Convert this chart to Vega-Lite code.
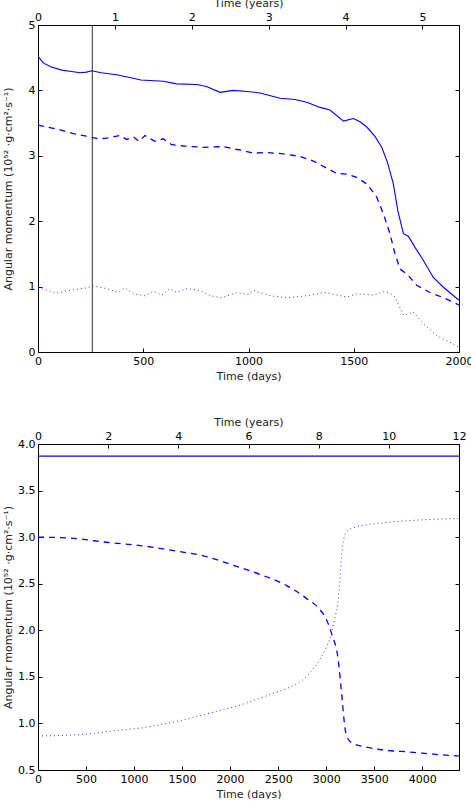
{
  "$schema": "https://vega.github.io/schema/vega-lite/v6.json",
  "background": "white",
  "padding": {"left": 2, "top": -3, "right": 0, "bottom": 0},
  "spacing": 35,
  "config": {
    "font": "DejaVu Sans",
    "view": {"stroke": null},
    "axis": {
      "grid": false,
      "domainColor": "black",
      "tickColor": "black",
      "labelColor": "black",
      "titleColor": "#222222",
      "labelFont": "DejaVu Sans",
      "titleFont": "DejaVu Sans",
      "labelFontSize": 11,
      "titleFontSize": 11,
      "titleFontWeight": "normal",
      "tickSize": -4,
      "labelPadding": 7,
      "domainWidth": 1,
      "tickWidth": 1,
      "labelFlush": false,
      "labelOverlap": false,
      "labelBound": false
    }
  },
  "datasets": {
    "top": [
      {"days": 0, "value": 4.52, "line": "A"},
      {"days": 25, "value": 4.42, "line": "A"},
      {"days": 60, "value": 4.36, "line": "A"},
      {"days": 113, "value": 4.31, "line": "A"},
      {"days": 160, "value": 4.29, "line": "A"},
      {"days": 200, "value": 4.27, "line": "A"},
      {"days": 230, "value": 4.28, "line": "A"},
      {"days": 255, "value": 4.3, "line": "A"},
      {"days": 300, "value": 4.27, "line": "A"},
      {"days": 374, "value": 4.24, "line": "A"},
      {"days": 430, "value": 4.2, "line": "A"},
      {"days": 489, "value": 4.16, "line": "A"},
      {"days": 595, "value": 4.14, "line": "A"},
      {"days": 659, "value": 4.1, "line": "A"},
      {"days": 754, "value": 4.09, "line": "A"},
      {"days": 800, "value": 4.06, "line": "A"},
      {"days": 865, "value": 3.97, "line": "A"},
      {"days": 928, "value": 4.0, "line": "A"},
      {"days": 1007, "value": 3.98, "line": "A"},
      {"days": 1055, "value": 3.96, "line": "A"},
      {"days": 1150, "value": 3.88, "line": "A"},
      {"days": 1221, "value": 3.86, "line": "A"},
      {"days": 1277, "value": 3.82, "line": "A"},
      {"days": 1340, "value": 3.74, "line": "A"},
      {"days": 1387, "value": 3.7, "line": "A"},
      {"days": 1451, "value": 3.53, "line": "A"},
      {"days": 1498, "value": 3.57, "line": "A"},
      {"days": 1530, "value": 3.52, "line": "A"},
      {"days": 1562, "value": 3.44, "line": "A"},
      {"days": 1600, "value": 3.3, "line": "A"},
      {"days": 1633, "value": 3.13, "line": "A"},
      {"days": 1660, "value": 2.9, "line": "A"},
      {"days": 1688, "value": 2.57, "line": "A"},
      {"days": 1710, "value": 2.15, "line": "A"},
      {"days": 1736, "value": 1.81, "line": "A"},
      {"days": 1759, "value": 1.77, "line": "A"},
      {"days": 1791, "value": 1.6, "line": "A"},
      {"days": 1831, "value": 1.4, "line": "A"},
      {"days": 1878, "value": 1.14, "line": "A"},
      {"days": 1926, "value": 0.99, "line": "A"},
      {"days": 2000, "value": 0.79, "line": "A"},
      {"days": 0, "value": 3.47, "line": "B"},
      {"days": 89, "value": 3.41, "line": "B"},
      {"days": 168, "value": 3.34, "line": "B"},
      {"days": 230, "value": 3.3, "line": "B"},
      {"days": 255, "value": 3.28, "line": "B"},
      {"days": 290, "value": 3.26, "line": "B"},
      {"days": 326, "value": 3.27, "line": "B"},
      {"days": 390, "value": 3.31, "line": "B"},
      {"days": 421, "value": 3.25, "line": "B"},
      {"days": 453, "value": 3.29, "line": "B"},
      {"days": 480, "value": 3.22, "line": "B"},
      {"days": 508, "value": 3.31, "line": "B"},
      {"days": 556, "value": 3.22, "line": "B"},
      {"days": 595, "value": 3.26, "line": "B"},
      {"days": 635, "value": 3.17, "line": "B"},
      {"days": 690, "value": 3.15, "line": "B"},
      {"days": 785, "value": 3.13, "line": "B"},
      {"days": 880, "value": 3.14, "line": "B"},
      {"days": 940, "value": 3.1, "line": "B"},
      {"days": 975, "value": 3.08, "line": "B"},
      {"days": 1023, "value": 3.04, "line": "B"},
      {"days": 1087, "value": 3.05, "line": "B"},
      {"days": 1166, "value": 3.03, "line": "B"},
      {"days": 1245, "value": 2.99, "line": "B"},
      {"days": 1308, "value": 2.92, "line": "B"},
      {"days": 1372, "value": 2.81, "line": "B"},
      {"days": 1419, "value": 2.73, "line": "B"},
      {"days": 1467, "value": 2.72, "line": "B"},
      {"days": 1514, "value": 2.67, "line": "B"},
      {"days": 1562, "value": 2.57, "line": "B"},
      {"days": 1609, "value": 2.37, "line": "B"},
      {"days": 1641, "value": 2.11, "line": "B"},
      {"days": 1672, "value": 1.81, "line": "B"},
      {"days": 1696, "value": 1.5, "line": "B"},
      {"days": 1720, "value": 1.27, "line": "B"},
      {"days": 1759, "value": 1.17, "line": "B"},
      {"days": 1799, "value": 1.02, "line": "B"},
      {"days": 1862, "value": 0.91, "line": "B"},
      {"days": 1926, "value": 0.83, "line": "B"},
      {"days": 2000, "value": 0.72, "line": "B"},
      {"days": 0, "value": 0.98, "line": "C"},
      {"days": 40, "value": 0.95, "line": "C"},
      {"days": 89, "value": 0.9, "line": "C"},
      {"days": 130, "value": 0.93, "line": "C"},
      {"days": 168, "value": 0.95, "line": "C"},
      {"days": 230, "value": 0.98, "line": "C"},
      {"days": 263, "value": 1.01, "line": "C"},
      {"days": 326, "value": 0.97, "line": "C"},
      {"days": 382, "value": 0.91, "line": "C"},
      {"days": 413, "value": 0.98, "line": "C"},
      {"days": 453, "value": 0.89, "line": "C"},
      {"days": 508, "value": 0.86, "line": "C"},
      {"days": 548, "value": 0.93, "line": "C"},
      {"days": 588, "value": 0.87, "line": "C"},
      {"days": 627, "value": 0.97, "line": "C"},
      {"days": 659, "value": 0.91, "line": "C"},
      {"days": 706, "value": 0.97, "line": "C"},
      {"days": 770, "value": 0.94, "line": "C"},
      {"days": 817, "value": 0.86, "line": "C"},
      {"days": 873, "value": 0.83, "line": "C"},
      {"days": 944, "value": 0.91, "line": "C"},
      {"days": 999, "value": 0.88, "line": "C"},
      {"days": 1023, "value": 0.94, "line": "C"},
      {"days": 1102, "value": 0.86, "line": "C"},
      {"days": 1182, "value": 0.83, "line": "C"},
      {"days": 1277, "value": 0.86, "line": "C"},
      {"days": 1364, "value": 0.91, "line": "C"},
      {"days": 1467, "value": 0.84, "line": "C"},
      {"days": 1514, "value": 0.89, "line": "C"},
      {"days": 1593, "value": 0.87, "line": "C"},
      {"days": 1641, "value": 0.92, "line": "C"},
      {"days": 1670, "value": 0.9, "line": "C"},
      {"days": 1696, "value": 0.84, "line": "C"},
      {"days": 1736, "value": 0.56, "line": "C"},
      {"days": 1760, "value": 0.58, "line": "C"},
      {"days": 1783, "value": 0.61, "line": "C"},
      {"days": 1823, "value": 0.46, "line": "C"},
      {"days": 1894, "value": 0.25, "line": "C"},
      {"days": 1957, "value": 0.15, "line": "C"},
      {"days": 2000, "value": 0.07, "line": "C"}
    ],
    "marker": [{"days": 258}],
    "bottom": [
      {"days": 0, "value": 3.87, "line": "A"},
      {"days": 1000, "value": 3.87, "line": "A"},
      {"days": 2000, "value": 3.87, "line": "A"},
      {"days": 3000, "value": 3.87, "line": "A"},
      {"days": 4383, "value": 3.87, "line": "A"},
      {"days": 0, "value": 3.0, "line": "B"},
      {"days": 333, "value": 2.99, "line": "B"},
      {"days": 750, "value": 2.94, "line": "B"},
      {"days": 1062, "value": 2.91, "line": "B"},
      {"days": 1444, "value": 2.85, "line": "B"},
      {"days": 1721, "value": 2.8, "line": "B"},
      {"days": 1999, "value": 2.71, "line": "B"},
      {"days": 2311, "value": 2.6, "line": "B"},
      {"days": 2589, "value": 2.48, "line": "B"},
      {"days": 2797, "value": 2.34, "line": "B"},
      {"days": 2936, "value": 2.22, "line": "B"},
      {"days": 3000, "value": 2.12, "line": "B"},
      {"days": 3058, "value": 1.96, "line": "B"},
      {"days": 3127, "value": 1.67, "line": "B"},
      {"days": 3162, "value": 1.31, "line": "B"},
      {"days": 3196, "value": 0.95, "line": "B"},
      {"days": 3230, "value": 0.83, "line": "B"},
      {"days": 3290, "value": 0.78, "line": "B"},
      {"days": 3400, "value": 0.75, "line": "B"},
      {"days": 3560, "value": 0.72, "line": "B"},
      {"days": 3907, "value": 0.69, "line": "B"},
      {"days": 4115, "value": 0.67, "line": "B"},
      {"days": 4383, "value": 0.65, "line": "B"},
      {"days": 0, "value": 0.865, "line": "C"},
      {"days": 437, "value": 0.88, "line": "C"},
      {"days": 784, "value": 0.92, "line": "C"},
      {"days": 1131, "value": 0.96, "line": "C"},
      {"days": 1478, "value": 1.03, "line": "C"},
      {"days": 1825, "value": 1.12, "line": "C"},
      {"days": 2173, "value": 1.22, "line": "C"},
      {"days": 2415, "value": 1.31, "line": "C"},
      {"days": 2624, "value": 1.39, "line": "C"},
      {"days": 2720, "value": 1.44, "line": "C"},
      {"days": 2820, "value": 1.53, "line": "C"},
      {"days": 2936, "value": 1.69, "line": "C"},
      {"days": 3000, "value": 1.81, "line": "C"},
      {"days": 3050, "value": 1.95, "line": "C"},
      {"days": 3092, "value": 2.14, "line": "C"},
      {"days": 3127, "value": 2.34, "line": "C"},
      {"days": 3148, "value": 2.62, "line": "C"},
      {"days": 3165, "value": 2.85, "line": "C"},
      {"days": 3182, "value": 2.97, "line": "C"},
      {"days": 3214, "value": 3.06, "line": "C"},
      {"days": 3318, "value": 3.11, "line": "C"},
      {"days": 3560, "value": 3.15, "line": "C"},
      {"days": 3907, "value": 3.18, "line": "C"},
      {"days": 4383, "value": 3.2, "line": "C"}
    ]
  },
  "vconcat": [
    {
      "width": 421,
      "height": 327,
      "layer": [
        {
          "data": {"name": "top"},
          "transform": [{"filter": "datum.line == 'A'"}],
          "mark": {"type": "line", "color": "#0000ff", "strokeWidth": 1.1, "clip": true},
          "encoding": {
            "x": {"field": "days", "type": "quantitative", "scale": {"domain": [0, 2000], "nice": false},
                  "axis": {"orient": "bottom", "values": [0, 500, 1000, 1500, 2000], "format": "d", "title": "Time (days)"}},
            "y": {"field": "value", "type": "quantitative", "scale": {"domain": [0, 5], "nice": false, "zero": false},
                  "axis": {"orient": "left", "values": [0, 1, 2, 3, 4, 5], "format": "d", "title": "Angular momentum (10⁵² ·g·cm²·s⁻¹)", "titleX": -25}}
          }
        },
        {
          "data": {"name": "top"},
          "transform": [{"filter": "datum.line == 'B'"}],
          "mark": {"type": "line", "color": "#0000ff", "strokeWidth": 1.3, "strokeDash": [6, 5], "clip": true},
          "encoding": {
            "x": {"field": "days", "type": "quantitative", "scale": {"domain": [0, 2000], "nice": false},
                  "axis": {"orient": "top", "values": [0, 365.25, 730.5, 1095.75, 1461, 1826.25], "labelExpr": "format(datum.value / 365.25, 'd')", "title": "Time (years)", "titlePadding": 3}},
            "y": {"field": "value", "type": "quantitative", "scale": {"domain": [0, 5], "nice": false, "zero": false},
                  "axis": {"orient": "right", "values": [0, 1, 2, 3, 4, 5], "labels": false, "title": null}}
          }
        },
        {
          "data": {"name": "top"},
          "transform": [{"filter": "datum.line == 'C'"}],
          "mark": {"type": "line", "color": "#3333ff", "strokeWidth": 1, "strokeDash": [1, 3], "clip": true},
          "encoding": {
            "x": {"field": "days", "type": "quantitative", "scale": {"domain": [0, 2000], "nice": false}, "axis": null},
            "y": {"field": "value", "type": "quantitative", "scale": {"domain": [0, 5], "nice": false, "zero": false}, "axis": null}
          }
        },
        {
          "data": {"name": "marker"},
          "mark": {"type": "rule", "color": "#333333", "strokeWidth": 1},
          "encoding": {
            "x": {"field": "days", "type": "quantitative", "scale": {"domain": [0, 2000], "nice": false}, "axis": null}
          }
        }
      ],
      "resolve": {"axis": {"x": "independent", "y": "independent"}}
    },
    {
      "width": 421,
      "height": 326,
      "layer": [
        {
          "data": {"name": "bottom"},
          "transform": [{"filter": "datum.line == 'A'"}],
          "mark": {"type": "line", "color": "#0000ff", "strokeWidth": 1.1, "clip": true},
          "encoding": {
            "x": {"field": "days", "type": "quantitative", "scale": {"domain": [0, 4383], "nice": false},
                  "axis": {"orient": "bottom", "values": [0, 500, 1000, 1500, 2000, 2500, 3000, 3500, 4000], "format": "d", "title": "Time (days)"}},
            "y": {"field": "value", "type": "quantitative", "scale": {"domain": [0.5, 4], "nice": false, "zero": false},
                  "axis": {"orient": "left", "values": [0.5, 1, 1.5, 2, 2.5, 3, 3.5, 4], "format": ".1f", "title": "Angular momentum (10⁵² ·g·cm²·s⁻¹)", "titleX": -25}}
          }
        },
        {
          "data": {"name": "bottom"},
          "transform": [{"filter": "datum.line == 'B'"}],
          "mark": {"type": "line", "color": "#0000ff", "strokeWidth": 1.3, "strokeDash": [6, 5], "interpolate": "monotone", "clip": true},
          "encoding": {
            "x": {"field": "days", "type": "quantitative", "scale": {"domain": [0, 4383], "nice": false},
                  "axis": {"orient": "top", "values": [0, 730.5, 1461, 2191.5, 2922, 3652.5, 4383], "labelExpr": "format(datum.value / 365.25, 'd')", "title": "Time (years)", "titlePadding": 3}},
            "y": {"field": "value", "type": "quantitative", "scale": {"domain": [0.5, 4], "nice": false, "zero": false},
                  "axis": {"orient": "right", "values": [0.5, 1, 1.5, 2, 2.5, 3, 3.5, 4], "labels": false, "title": null}}
          }
        },
        {
          "data": {"name": "bottom"},
          "transform": [{"filter": "datum.line == 'C'"}],
          "mark": {"type": "line", "color": "#3333ff", "strokeWidth": 1, "strokeDash": [1, 3], "interpolate": "monotone", "clip": true},
          "encoding": {
            "x": {"field": "days", "type": "quantitative", "scale": {"domain": [0, 4383], "nice": false}, "axis": null},
            "y": {"field": "value", "type": "quantitative", "scale": {"domain": [0.5, 4], "nice": false, "zero": false}, "axis": null}
          }
        }
      ],
      "resolve": {"axis": {"x": "independent", "y": "independent"}}
    }
  ]
}
